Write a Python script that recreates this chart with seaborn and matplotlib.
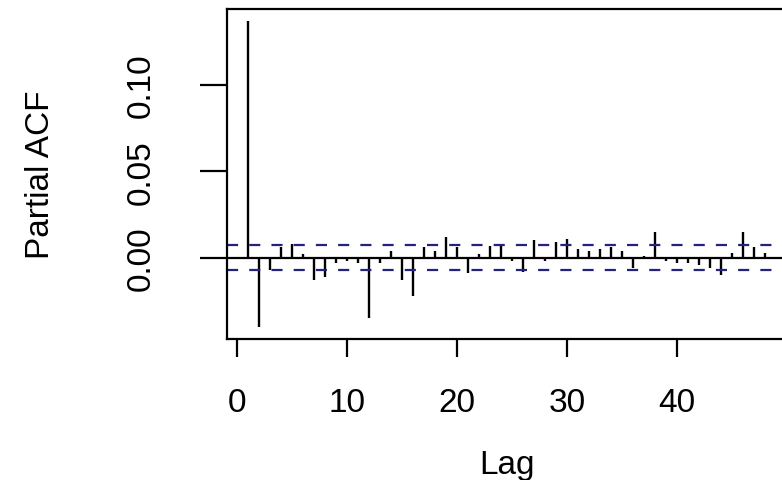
import numpy as np
import matplotlib
matplotlib.use("Agg")
import matplotlib.pyplot as plt
import seaborn as sns

# PACF values, lags 1..48
lags = list(range(1, 49))
pacf_vals = [
    0.137, -0.040, -0.007, 0.006, 0.008, 0.002, -0.013, -0.011, -0.003, -0.002,
    -0.003, -0.035, -0.003, 0.004, -0.013, -0.022, 0.006, 0.004, 0.012, 0.006,
    -0.009, 0.002, 0.007, 0.008, -0.002, -0.008, 0.010, -0.002, 0.009, 0.011,
    0.005, 0.004, 0.005, 0.006, 0.004, -0.006, 0.001, 0.015, -0.002, -0.003,
    -0.003, -0.004, -0.006, -0.010, 0.003, 0.015, 0.006, 0.003,
]
conf_limit = 0.0071
x_ticks = [0, 10, 20, 30, 40]
y_ticks = [0.00, 0.05, 0.10]
y_tick_labels = ["0.00", "0.05", "0.10"]

sns.set_theme(style="white")
plt.rcParams["font.family"] = ["Liberation Sans", "DejaVu Sans"]

fig = plt.figure(figsize=(7.82, 4.81), dpi=100)
# axes runs past the right edge of the figure, as in the cropped reference
ax = fig.add_axes([227 / 782, 1 - 340 / 481, (786 - 227) / 782, 330 / 481])

ax.vlines(lags, 0, pacf_vals, color="black", linewidth=1.7)
ax.axhline(0, color="black", linewidth=1.6)
for c in (conf_limit, -conf_limit):
    ax.axhline(c, color="#23237e", linewidth=1.6, linestyle=(0, (5, 5)))

# R style 4% padding
lo = min(min(pacf_vals), -conf_limit)
hi = max(max(pacf_vals), conf_limit)
span = hi - lo
ax.set_ylim(lo - 0.04 * span, hi + 0.04 * span)
xspan = lags[-1] - lags[0]
ax.set_xlim(lags[0] - 0.04 * xspan, lags[-1] + 0.04 * xspan)

ax.set_xticks(x_ticks)
ax.set_yticks(y_ticks)
ax.set_yticklabels(y_tick_labels, rotation=90, va="center", ha="center")

for s in ax.spines.values():
    s.set_color("black")
    s.set_linewidth(1.6)

ax.tick_params(axis="x", direction="out", length=13.3, width=1.6, pad=21,
               labelsize=24, colors="black", bottom=True)
ax.tick_params(axis="y", direction="out", length=19.4, width=1.6, pad=42,
               labelsize=24, colors="black", left=True)

ax.set_xlabel("Lag", fontsize=24, color="black")
ax.set_ylabel("Partial ACF", fontsize=24, color="black")
ax.xaxis.set_label_coords(0.5, -0.333)
ax.yaxis.set_label_coords(-0.306, 0.5)

fig.savefig("out.png", dpi=100)
